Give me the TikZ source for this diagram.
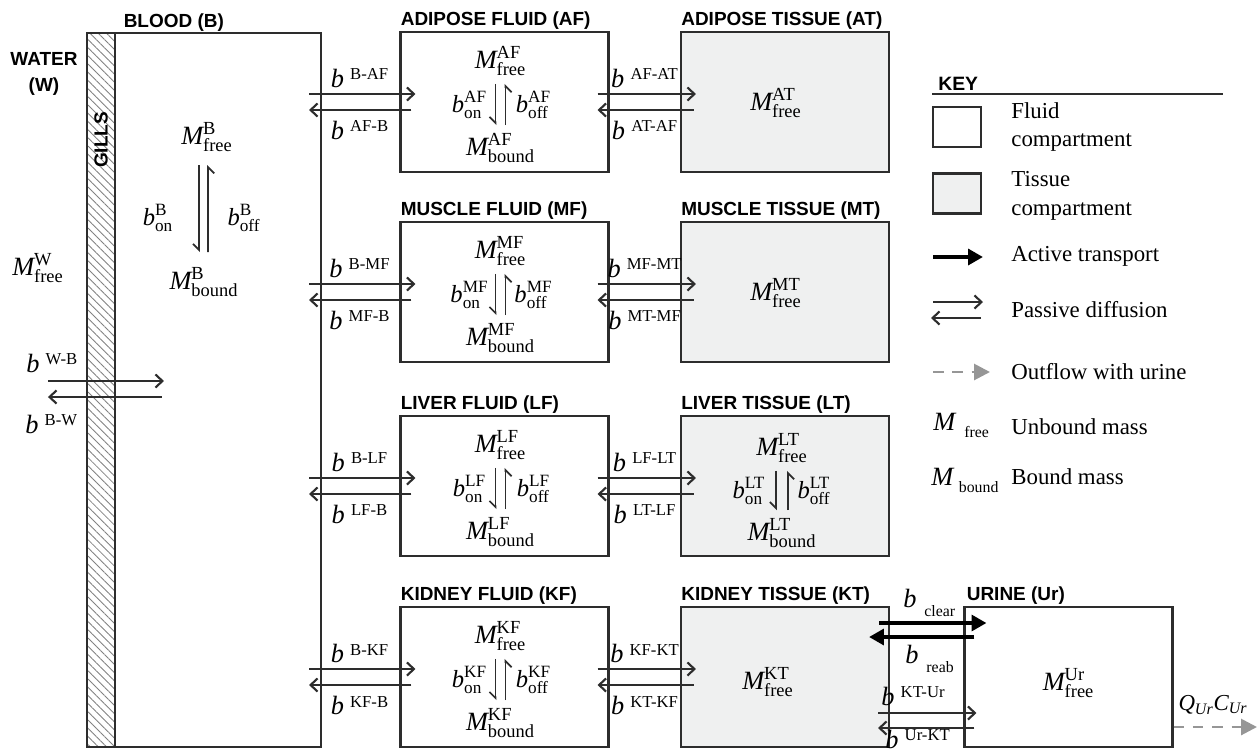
\documentclass[tikz,border=0pt]{standalone}
\usepackage{amsmath}
\usepackage{fontspec}
\setmainfont{Liberation Serif}
\setsansfont{Liberation Sans}
\usetikzlibrary{arrows.meta,calc,patterns.meta}
\definecolor{graphite}{RGB}{45,45,45}
\definecolor{tissuefill}{RGB}{239,240,240}
\definecolor{drain}{RGB}{150,150,150}
\newcommand{\MFree}[1]{$\textit{M}^{\text{#1}}_{\text{free}}$}
\newcommand{\MBound}[1]{$\textit{M}^{\text{#1}}_{\text{bound}}$}
\newcommand{\bOn}[1]{$\textit{b}^{\text{#1}}_{\text{on}}$}
\newcommand{\bOff}[1]{$\textit{b}^{\text{#1}}_{\text{off}}$}
\newcommand{\bFlux}[1]{\textit{b}\hspace{3.5pt}\raisebox{4pt}{\fontsize{9.5}{10}\selectfont #1}}
\newcommand{\bSub}[1]{\textit{b}\hspace{4.5pt}\raisebox{-5.5pt}{\fontsize{9}{10}\selectfont #1}}
\tikzset{
  fluid/.style={draw=graphite,line width=1.2pt,fill=white,minimum width=4.16cm,
    minimum height=2.8cm,inner sep=0pt},
  tissue/.style={fluid,fill=tissuefill},
  title/.style={font=\sffamily\bfseries\fontsize{10.8}{13}\selectfont,anchor=base west,inner sep=0pt},
  mass/.style={font=\fontsize{15}{18}\selectfont,inner sep=2pt},
  rate/.style={font=\fontsize{14}{16}\selectfont,inner sep=0pt},
  flux/.style={font=\fontsize{15}{17}\selectfont,inner sep=0pt},
  keytext/.style={font=\fontsize{13}{16.4}\selectfont,anchor=west,align=left,inner sep=0pt},
  pas/.style={draw=graphite,line width=1.2pt,-{Straight Barb[length=4pt,width=7.5pt]}},
  act/.style={draw=black,line width=2.3pt,-{Triangle[length=8.5pt,width=9pt]}},
  urineflow/.style={draw=drain,line width=1.6pt,dash pattern=on 6pt off 5pt,
    -{Triangle[length=9pt,width=9pt]}},
  harp/.style={draw=graphite,line width=1pt,shorten <=2.5pt,shorten >=2.5pt,
    -{Straight Barb[harpoon,swap,length=3.5pt,width=7pt]}},
}

\begin{document}
\begin{tikzpicture}[x=0.02cm,y=-0.02cm]
  \useasboundingbox (0,0) rectangle (1258,755);
  % water and blood
  \node[draw=graphite,line width=1.2pt,minimum width=0.56cm,minimum height=14.28cm,inner sep=0pt,
    pattern={Lines[angle=-45,distance=3.3pt,line width=0.5pt]},pattern color=graphite!60] (gills) at (101,390) {};
  \node[draw=graphite,line width=1.2pt,minimum width=4.68cm,minimum height=14.28cm,inner sep=0pt] (blood) at (204,390) {};
  \node[title,anchor=center,rotate=90] (gilltag) at (101,140) {GILLS};
  \node[title] at ($(gills.north east)+(8,-5)$) {BLOOD (B)};
  \node[title,anchor=center,align=center,font=\sffamily\bfseries\fontsize{10.8}{14.5}\selectfont] (water) at (44,74) {WATER\\(W)};
  \node[mass] (w-free) at (38,268) {\MFree{W}};
  \node[mass] (b-free) at (207,137) {\MFree{B}};
  \node[mass] (b-bound) at (204,282) {\MBound{B}};
  \draw[harp,shorten <=5.4pt,shorten >=6.5pt] ([xshift=-4.5pt]b-free.south) -- ([xshift=-2.8pt]b-bound.north);
  \draw[harp,shorten <=6.5pt,shorten >=5.4pt] ([xshift=2.3pt]b-bound.north) -- ([xshift=0.6pt]b-free.south);
  \node[rate] at (158,218) {\bOn{B}};
  \node[rate] at (244,218) {\bOff{B}};
  \draw[pas] ($(blood.west)+(-38,-9)$) -- ($(blood.west)+(78,-9)$);
  \draw[pas] ($(blood.west)+(76,7)$) -- ($(blood.west)+(-38,7)$);
  \node[flux,anchor=base west] at (26,372) {\bFlux{W-B}};
  \node[flux,anchor=base west] at (25,433) {\bFlux{B-W}};
  % fluid compartments
  \foreach \n/\t/\T/\y in {af/ADIPOSE/A/102,mf/MUSCLE/M/292,lf/LIVER/L/486,kf/KIDNEY/K/677}{
    \node[fluid] (\n) at (504.5,\y) {};
    \node[title] at ($(\n.north west)+(1,-5)$) {\t\ FLUID (\T F)};
    \node[mass] (\n-free) at ($(\n)+(-4,-41)$) {\MFree{\T F}};
    \node[mass] (\n-bound) at ($(\n)+(-4,46)$) {\MBound{\T F}};
    \draw[harp] ([xshift=-2.8pt]\n-free.south) -- ([xshift=-2.8pt]\n-bound.north);
    \draw[harp] ([xshift=2.8pt]\n-bound.north) -- ([xshift=2.8pt]\n-free.south);
    \node[rate] at ($(\n)+(-35,3)$) {\bOn{\T F}};
    \node[rate] at ($(\n)+(29,3)$) {\bOff{\T F}};
    \draw[pas] ($(blood.east |- \n)+(-13,-8)$) -- ($(\n.west)+(16,-8)$);
    \draw[pas] ($(\n.west)+(12,8)$) -- ($(blood.east |- \n)+(-13,8)$);
    \node[flux] at ($(\n.west)+(-40,-24)$) {\bFlux{B-\T F}};
    \node[flux] at ($(\n.west)+(-40,28)$) {\bFlux{\T F-B}};
  }
  % tissue compartments
  \foreach \n/\f/\t/\T/\y in {at/af/ADIPOSE/A/102,mt/mf/MUSCLE/M/292,lt/lf/LIVER/L/486,kt/kf/KIDNEY/K/677}{
    \node[tissue] (\n) at (785,\y) {};
    \node[title] at ($(\n.north west)+(1,-5)$) {\t\ TISSUE (\T T)};
    \draw[pas] ($(\f.east)+(-12,-8)$) -- ($(\n.west)+(16,-8)$);
    \draw[pas] ($(\n.west)+(14,8)$) -- ($(\f.east)+(-12,8)$);
    \node[flux] at ($(\f.east)+(35,-24)$) {\bFlux{\T F-\T T}};
    \node[flux] at ($(\f.east)+(35,28)$) {\bFlux{\T T-\T F}};
  }
  \node[mass] (at-free) at ($(at)+(-9,1)$) {\MFree{AT}};
  \node[mass] (mt-free) at ($(mt)+(-9,1)$) {\MFree{MT}};
  \node[mass] (kt-free) at ($(kt)+(-17,5)$) {\MFree{KT}};
  \node[mass] (lt-free) at ($(lt)+(-3,-38)$) {\MFree{LT}};
  \node[mass] (lt-bound) at ($(lt)+(-3,47)$) {\MBound{LT}};
  \draw[harp] ([xshift=-3.4pt]lt-free.south) -- ([xshift=-3.4pt]lt-bound.north);
  \draw[harp] ([xshift=3.4pt]lt-bound.north) -- ([xshift=3.4pt]lt-free.south);
  \node[rate] at ($(lt)+(-36,5)$) {\bOn{LT}};
  \node[rate] at ($(lt)+(29,5)$) {\bOff{LT}};
  % urine
  \node[fluid] (ur) at (1068.5,677) {};
  \node[title] at ($(ur.north west)+(3,-5)$) {URINE (Ur)};
  \node[mass] (ur-free) at ($(ur)+(0,6)$) {\MFree{Ur}};
  \draw[act] ($(kt.east)+(-11,-54)$) -- ($(ur.west)+(23,-54)$);
  \draw[act] ($(ur.west)+(11,-40)$) -- ($(kt.east)+(-21,-40)$);
  \draw[pas] ($(kt.east)+(-12,36)$) -- ($(ur.west)+(13,36)$);
  \draw[pas] ($(ur.west)+(11,51)$) -- ($(kt.east)+(-12,51)$);
  \node[flux,anchor=base west] at ($(kt.east)+(13,-70)$) {\bSub{clear}};
  \node[flux,anchor=base west] at ($(kt.east)+(15,-14)$) {\bSub{reab}};
  \node[flux,anchor=base west] at ($(kt.east)+(-9,28)$) {\bFlux{KT-Ur}};
  \node[flux,anchor=base west] at ($(kt.east)+(-5,71)$) {\bFlux{Ur-KT}};
  \coordinate (outlet) at (1257,727);
  \draw[urineflow] ($(ur.east)+(0,50)$) -- (outlet);
  \node[flux,font=\fontsize{13}{15}\selectfont] at (1213,705) {$\textit{Q}_{\textit{Ur}}\textit{C}_{\textit{Ur}}$};
  % key
  \node[title,font=\sffamily\bfseries\fontsize{11}{13}\selectfont] (key) at (938,90) {KEY};
  \draw[graphite,line width=1pt] (932,94) -- (1223,94);
  \node[fluid,minimum width=0.96cm,minimum height=0.8cm] (kfluid) at (957,127) {};
  \node[keytext] at (1011,127) {Fluid\\compartment};
  \node[tissue,minimum width=0.96cm,minimum height=0.8cm] (ktissue) at (957,193.5) {};
  \node[keytext] at (1011,196) {Tissue\\compartment};
  \draw[act] (933,257) -- (983,257);
  \node[keytext] at (1011,256) {Active transport};
  \draw[pas] (933,302) -- (983,302);
  \draw[pas] (981,318) -- (931,318);
  \node[keytext] at (1011,310) {Passive diffusion};
  \draw[urineflow] (933,372) -- (990,372);
  \node[keytext] at (1011,372) {Outflow with urine};
  \node[flux,anchor=base west] at (933,430) {\textit{M}\hspace{4.5pt}\raisebox{-4pt}{\fontsize{9}{10}\selectfont free}};
  \node[keytext] at (1011,427) {Unbound mass};
  \node[flux,anchor=base west] at (931,485) {\textit{M}\hspace{2.5pt}\raisebox{-4pt}{\fontsize{9}{10}\selectfont bound}};
  \node[keytext] at (1011,477) {Bound mass};
\end{tikzpicture}
\end{document}
